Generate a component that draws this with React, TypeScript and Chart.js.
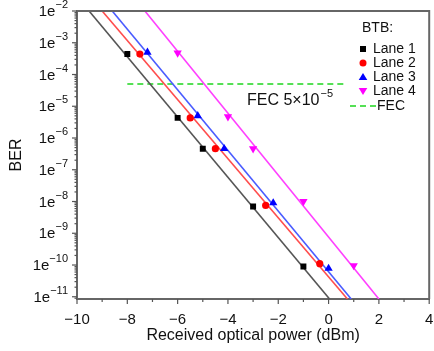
import React, { useEffect, useRef } from 'react';
import { Chart, registerables } from 'chart.js';

Chart.register(...registerables);

// ---- axis ranges & ticks ----
const X_MIN = -10;
const X_MAX = 4;
const Y_MIN = 8.5e-12;
const Y_MAX = 1e-2;
const yDecades = [-2, -3, -4, -5, -6, -7, -8, -9, -10, -11];

// ---- measured points (BTB) ----
const lane1X = [-8, -6, -5, -3, -1];
const lane1Y = [4.4e-4, 4.3e-6, 4.6e-7, 7e-9, 9e-11];
const lane2X = [-7.5, -5.5, -4.5, -2.5, -0.35];
const lane2Y = [4.4e-4, 4.3e-6, 4.6e-7, 7.5e-9, 1.1e-10];
const lane3X = [-7.2, -5.2, -4.15, -2.2, 0];
const lane3Y = [5e-4, 5e-6, 4.6e-7, 9e-9, 7.8e-11];
const lane4X = [-6, -4, -3, -1, 1];
const lane4Y = [4.8e-4, 4.7e-6, 4.6e-7, 1e-8, 9.6e-11];

// ---- fitted lines (x at BER = 1e-2 and at BER = Y_MIN) ----
const fitY = [1e-2, 8.5e-12];
const fit1X = [-9.52, 0.04];
const fit2X = [-9.0, 0.75];
const fit3X = [-8.6, 0.9];
const fit4X = [-7.3, 2.0];

// ---- FEC threshold ----
const fecX = [-8, 0.7];
const fecLevel = 5e-5;

const laneNames = ['Lane 1', 'Lane 2', 'Lane 3', 'Lane 4'];
const markerColors = ['#000000', '#ff0000', '#0000ff', '#ff00ff'];
const lineColors = ['#555555', '#ff4d4d', '#4a5cff', '#ff40ff'];
const FEC_COLOR = '#55e055';
const FONT = "'Liberation Sans', Arial, sans-serif";

const pts = (xs: number[], ys: number[]) => xs.map((x, i) => ({ x, y: ys[i] }));

function drawMarker(ctx: CanvasRenderingContext2D, kind: number, x: number, y: number, color: string) {
  ctx.save();
  ctx.fillStyle = color;
  ctx.beginPath();
  if (kind === 0) {
    ctx.rect(x - 3, y - 3, 6, 6);
  } else if (kind === 1) {
    ctx.arc(x, y, 3.5, 0, Math.PI * 2);
  } else if (kind === 2) {
    ctx.moveTo(x, y - 4);
    ctx.lineTo(x + 4.3, y + 3);
    ctx.lineTo(x - 4.3, y + 3);
    ctx.closePath();
  } else {
    ctx.moveTo(x, y + 4);
    ctx.lineTo(x + 4.3, y - 3);
    ctx.lineTo(x - 4.3, y - 3);
    ctx.closePath();
  }
  ctx.fill();
  ctx.restore();
}

const decorPlugin = {
  id: 'decor',
  afterDatasetsDraw(chart: any) {
    const ctx: CanvasRenderingContext2D = chart.ctx;
    const { left, right, top, bottom } = chart.chartArea;
    const xs = chart.scales.x;
    const ys = chart.scales.y;
    ctx.save();
    // frame top/right
    ctx.strokeStyle = '#666666';
    ctx.lineWidth = 2;
    ctx.beginPath();
    ctx.moveTo(left, top);
    ctx.lineTo(right, top);
    ctx.lineTo(right, bottom);
    ctx.stroke();

    // x ticks (outward)
    ctx.lineWidth = 1.2;
    ctx.strokeStyle = '#555555';
    for (let v = X_MIN; v <= X_MAX; v++) {
      const px = xs.getPixelForValue(v);
      const len = v % 2 === 0 ? 5 : 3;
      ctx.beginPath();
      ctx.moveTo(px, bottom);
      ctx.lineTo(px, bottom + len);
      ctx.stroke();
    }
    // y ticks (outward)
    for (const d of yDecades) {
      for (let k = 1; k <= 9; k++) {
        const v = k * Math.pow(10, d);
        if (v > Y_MAX * 1.0001 || v < Y_MIN) continue;
        const py = ys.getPixelForValue(v);
        const len = k === 1 ? 5 : 2.5;
        ctx.beginPath();
        ctx.moveTo(left, py);
        ctx.lineTo(left - len, py);
        ctx.stroke();
      }
      if (d === -11) {
        for (let k = 2; k <= 9; k++) {
          const v = k * Math.pow(10, d - 1);
          if (v < Y_MIN) continue;
          const py = ys.getPixelForValue(v);
          ctx.beginPath();
          ctx.moveTo(left, py);
          ctx.lineTo(left - 2.5, py);
          ctx.stroke();
        }
      }
    }

    // y tick labels 1e^-n
    ctx.fillStyle = '#111111';
    for (const d of yDecades) {
      const py = ys.getPixelForValue(Math.pow(10, d));
      const sup = '\u2212' + String(-d);
      ctx.font = `11px ${FONT}`;
      const sw = ctx.measureText(sup).width;
      const rightEdge = 68;
      ctx.textAlign = 'left';
      ctx.textBaseline = 'alphabetic';
      ctx.fillText(sup, rightEdge - sw, py - 3);
      ctx.font = `15px ${FONT}`;
      ctx.textAlign = 'right';
      ctx.fillText('1e', rightEdge - sw, py + 5);
    }

    // FEC annotation text
    ctx.font = `16px ${FONT}`;
    ctx.textAlign = 'left';
    ctx.textBaseline = 'alphabetic';
    const fecTxt = 'FEC 5\u00d710';
    const fx = 247;
    const fy = ys.getPixelForValue(fecLevel) + 21;
    ctx.fillText(fecTxt, fx, fy);
    const w = ctx.measureText(fecTxt).width;
    ctx.font = `11px ${FONT}`;
    ctx.fillText('\u22125', fx + w + 1, fy - 8);

    // legend
    ctx.font = `14px ${FONT}`;
    ctx.textBaseline = 'middle';
    ctx.fillText('BTB:', 362, 28);
    const rows = [49, 63, 77, 91];
    laneNames.forEach((name, i) => {
      drawMarker(ctx, i, 363, rows[i], markerColors[i]);
      ctx.fillStyle = '#111111';
      ctx.fillText(name, 373, rows[i]);
    });
    ctx.strokeStyle = FEC_COLOR;
    ctx.lineWidth = 2;
    ctx.setLineDash([6, 4]);
    ctx.beginPath();
    ctx.moveTo(350, 106);
    ctx.lineTo(376, 106);
    ctx.stroke();
    ctx.setLineDash([]);
    ctx.fillText('FEC', 377, 106);
    ctx.restore();
  },
};

export default function App() {
  const ref = useRef<HTMLCanvasElement | null>(null);

  useEffect(() => {
    document.body.style.margin = '0';
    const canvas = ref.current;
    if (!canvas) return;
    Chart.defaults.font.family = FONT;

    const laneX = [lane1X, lane2X, lane3X, lane4X];
    const laneY = [lane1Y, lane2Y, lane3Y, lane4Y];
    const fits = [fit1X, fit2X, fit3X, fit4X];
    const styles = ['rect', 'circle', 'triangle', 'triangle'];
    const radii = [4.2, 3.6, 4.8, 4.8];
    const rots = [0, 0, 0, 180];

    const datasets: any[] = [];
    datasets.push({
      label: 'FEC',
      data: pts(fecX, [fecLevel, fecLevel]),
      borderColor: FEC_COLOR,
      borderWidth: 2,
      borderDash: [6, 4],
      pointRadius: 0,
      showLine: true,
      order: 3,
    });
    fits.forEach((fx, i) => {
      datasets.push({
        label: laneNames[i] + ' fit',
        data: pts(fx, fitY),
        borderColor: lineColors[i],
        borderWidth: 1.6,
        pointRadius: 0,
        showLine: true,
        order: 2,
      });
    });
    laneX.forEach((lx, i) => {
      datasets.push({
        label: laneNames[i],
        data: pts(lx, laneY[i]),
        showLine: false,
        pointStyle: styles[i],
        pointRadius: radii[i],
        pointRotation: rots[i],
        backgroundColor: markerColors[i],
        borderColor: markerColors[i],
        borderWidth: 0,
        order: 1,
      });
    });

    const chart = new Chart(canvas, {
      type: 'scatter',
      data: { datasets },
      options: {
        animation: false,
        responsive: false,
        devicePixelRatio: 1,
        layout: { padding: { left: 0, top: 11, right: 3, bottom: 0 } },
        plugins: { legend: { display: false }, tooltip: { enabled: false } },
        scales: {
          x: {
            type: 'linear',
            min: X_MIN,
            max: X_MAX,
            afterFit: (s: any) => { s.height = 52; s.paddingLeft = 0; s.paddingRight = 0; },
            grid: { display: false, drawTicks: false },
            border: { display: true, color: '#666666', width: 2 },
            ticks: {
              stepSize: 2,
              padding: 12,
              color: '#111111',
              font: { size: 15, family: FONT },
              callback: (v: any) => String(v).replace('-', '\u2212'),
            },
            title: {
              display: true,
              text: 'Received optical power (dBm)',
              color: '#111111',
              font: { size: 16, family: FONT },
              padding: { top: 0, bottom: 6 },
            },
          },
          y: {
            type: 'logarithmic',
            min: Y_MIN,
            max: Y_MAX,
            afterFit: (s: any) => { s.width = 77; s.paddingTop = 0; s.paddingBottom = 0; },
            grid: { display: false, drawTicks: false },
            border: { display: true, color: '#666666', width: 2 },
            ticks: { display: false },
            title: {
              display: true,
              text: 'BER',
              color: '#111111',
              font: { size: 16, family: FONT },
              padding: { top: 7, bottom: 0 },
            },
          },
        },
      },
      plugins: [decorPlugin],
    });
    return () => chart.destroy();
  }, []);

  return (
    <canvas ref={ref} width={434} height={351} style={{ display: 'block', width: 434, height: 351 }} />
  );
}
